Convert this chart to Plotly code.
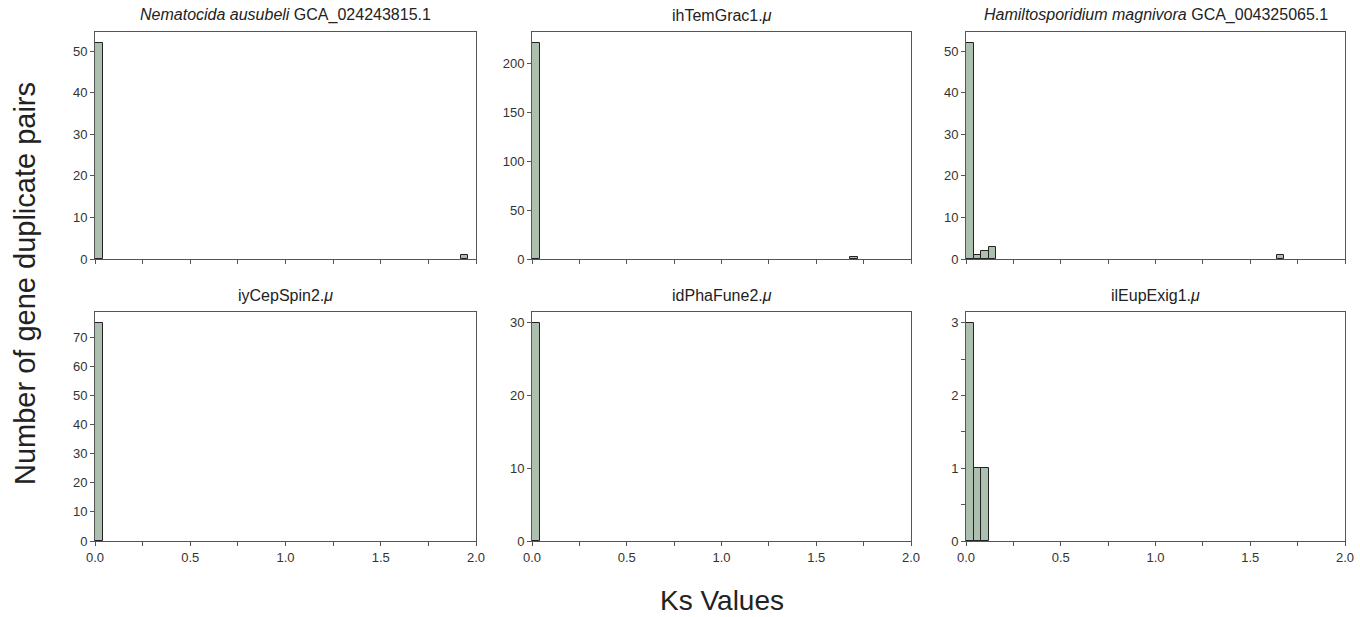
import plotly.graph_objects as go

# Ks histogram bins (bin start, width 0.04) and counts per panel
bin_width = 0.04
titles = [
    "<i>Nematocida ausubeli</i> GCA_024243815.1",
    "ihTemGrac1.<i>μ</i>",
    "<i>Hamiltosporidium magnivora</i> GCA_004325065.1",
    "iyCepSpin2.<i>μ</i>",
    "idPhaFune2.<i>μ</i>",
    "ilEupExig1.<i>μ</i>",
]
p1_bins = [0.00, 1.92]
p1_counts = [52, 1]
p2_bins = [0.00, 1.68]
p2_counts = [221, 2]
p3_bins = [0.00, 0.04, 0.08, 0.12, 1.64]
p3_counts = [52, 1, 2, 3, 1]
p4_bins = [0.00]
p4_counts = [75]
p5_bins = [0.00]
p5_counts = [30]
p6_bins = [0.00, 0.04, 0.08]
p6_counts = [3, 1, 1]

y_dticks = [10, 50, 10, 10, 10, 1]
y_minor = [None, None, None, None, None, 0.5]
x_ticks = [0.0, 0.5, 1.0, 1.5, 2.0]
x_ticklabels = ["0.0", "0.5", "1.0", "1.5", "2.0"]

panels = [
    (p1_bins, p1_counts), (p2_bins, p2_counts), (p3_bins, p3_counts),
    (p4_bins, p4_counts), (p5_bins, p5_counts), (p6_bins, p6_counts),
]

W, H = 1360, 617
col_px = [(95, 476), (532, 911), (966, 1345)]
row_px = [(32, 259), (312, 541)]


def px_x(p):
    return p / W


def px_y(p):
    return 1 - p / H


fig = go.Figure()
bar_color = "#adc0b0"
axis_color = "#555555"
font_fam = "Liberation Sans, Arial, sans-serif"

for i, (bins, counts) in enumerate(panels):
    r, c = divmod(i, 3)
    n = i + 1
    xa = "x" if n == 1 else f"x{n}"
    ya = "y" if n == 1 else f"y{n}"
    centers = [b + bin_width / 2 for b in bins]
    fig.add_trace(go.Bar(
        x=centers, y=counts, width=[bin_width] * len(bins),
        marker=dict(color=bar_color, line=dict(color="#222222", width=1)),
        xaxis=xa, yaxis=ya, showlegend=False,
    ))
    x0, x1 = col_px[c]
    y0, y1 = row_px[r]
    xkey = "xaxis" if n == 1 else f"xaxis{n}"
    ykey = "yaxis" if n == 1 else f"yaxis{n}"
    ymax = max(counts) * 1.05
    fig.layout[xkey] = dict(
        domain=[px_x(x0), px_x(x1)], anchor=ya, range=[0, 2], automargin=False,
        tickmode="array", tickvals=x_ticks,
        ticktext=x_ticklabels if r == 1 else [""] * len(x_ticks),
        ticks="outside", ticklen=4, tickcolor=axis_color,
        minor=dict(dtick=0.25, tick0=0, ticks="outside", ticklen=4, tickcolor=axis_color, showgrid=False),
        showline=True, linecolor=axis_color, linewidth=1, mirror=True,
        showgrid=False, zeroline=False,
        tickfont=dict(size=13, color="#333333", family=font_fam),
    )
    ydict = dict(
        domain=[px_y(y1), px_y(y0)], anchor=xa, range=[0, ymax], automargin=False,
        dtick=y_dticks[i], tick0=0,
        ticks="outside", ticklen=4, tickcolor=axis_color,
        showline=True, linecolor=axis_color, linewidth=1, mirror=True,
        showgrid=False, zeroline=False,
        tickfont=dict(size=13, color="#333333", family=font_fam),
    )
    if y_minor[i]:
        ydict["minor"] = dict(dtick=y_minor[i], tick0=0, ticks="outside", ticklen=4,
                              tickcolor=axis_color, showgrid=False)
    fig.layout[ykey] = ydict
    fig.add_annotation(
        text=titles[i], x=px_x((x0 + x1) / 2), y=px_y(y0 - 17),
        xref="paper", yref="paper", showarrow=False,
        font=dict(size=16, color="#222222", family=font_fam),
        xanchor="center", yanchor="middle",
    )

fig.add_annotation(
    text="Number of gene duplicate pairs", x=px_x(25), y=px_y(284),
    xref="paper", yref="paper", showarrow=False, textangle=-90,
    font=dict(size=29, color="#222222", family=font_fam),
    xanchor="center", yanchor="middle",
)
fig.add_annotation(
    text="Ks Values", x=px_x(722), y=px_y(600),
    xref="paper", yref="paper", showarrow=False,
    font=dict(size=28, color="#222222", family=font_fam),
    xanchor="center", yanchor="middle",
)

fig.update_layout(
    width=W, height=H, margin=dict(l=0, r=0, t=0, b=0),
    plot_bgcolor="white", paper_bgcolor="white", bargap=0,
    font=dict(family=font_fam),
)
fig.write_html(
    "out.html",
    config={"displayModeBar": False},
    post_script="document.body.style.margin='0';document.body.style.overflow='hidden';",
)
